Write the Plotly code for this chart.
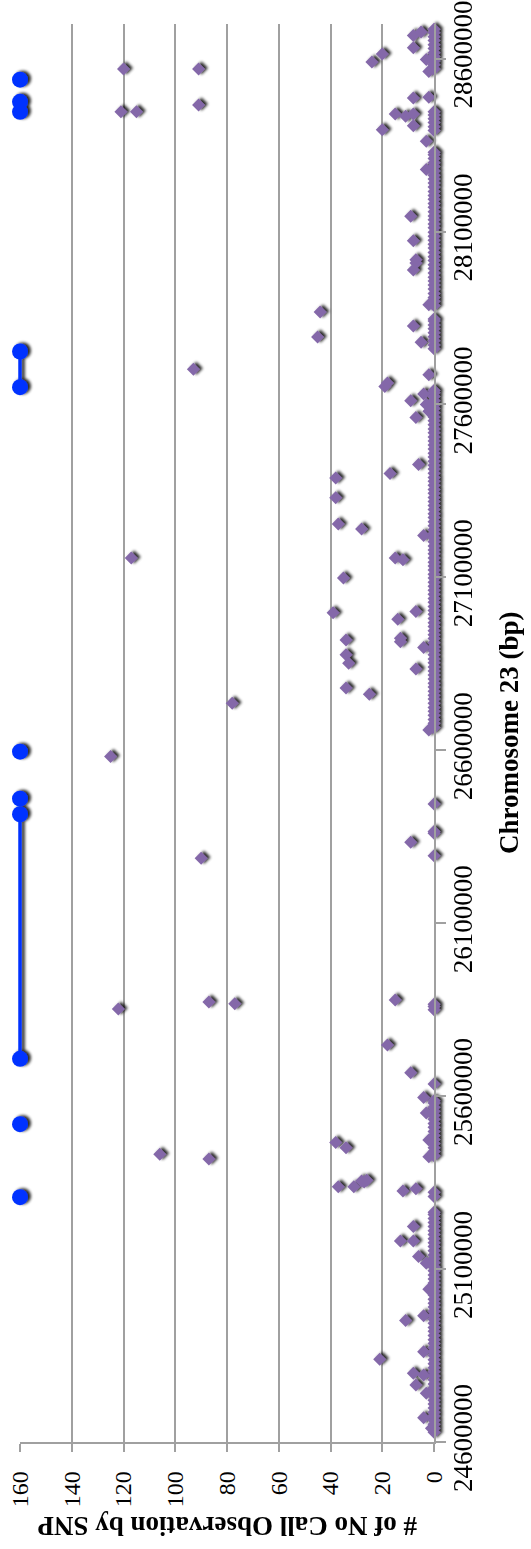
import plotly.graph_objects as go

# ---- data -------------------------------------------------------------
# Count axis (no-call observations per SNP)
count_ticks = [0, 20, 40, 60, 80, 100, 120, 140, 160]
# Chromosome 23 position axis (bp)
pos_ticks = [24600000, 25100000, 25600000, 26100000, 26600000,
             27100000, 27600000, 28100000, 28600000]
pos_tick_labels = [str(v) for v in pos_ticks]

# SNPs with at least one no-call: position (kb) and number of no-calls
snp_pos_kb = [
    28570, 28570, 28446, 28446, 28466, 28613, 28590, 28667, 28677, 28631,
    28597, 28563, 28486, 28488, 28440, 28433, 28440, 28406, 28394, 28361,
    28279, 28144, 28073, 28018, 28009, 27989, 27888, 27867, 27795, 27827,
    27780, 27702, 27686, 27662, 27652, 27611, 27562, 27600, 27630, 27580,
    27426, 27400, 27387, 27330, 27254, 27240, 27221, 27156, 27156, 27151,
    27098, 26998, 27001, 26979, 26919, 26924, 26914, 26897, 26876, 26852,
    26835, 26780, 26762, 26736, 26659, 26582, 26334, 26288, 25852, 25872,
    25867, 25878, 25748, 25668, 25596, 25551, 25473, 25425, 25466, 25451,
    25432, 25418, 25338, 25338, 25357, 25352, 25355, 25326, 25332, 25223,
    25181, 25181, 25136, 25117, 25042, 24951, 24965, 24839, 24861, 24799,
    24794, 24765, 24741, 24670, 24640,
]
snp_calls = [
    120, 91, 121, 115, 91, 20, 24, 8, 5, 8,
    3, 2, 8, 2, 15, 11, 8, 8, 20, 3,
    3, 9, 8, 7, 7, 8, 2, 44, 45, 8,
    5, 93, 2, 18, 19, 9, 7, 3, 4, 2,
    6, 17, 38, 38, 37, 28, 4, 117, 15, 12,
    35, 39, 7, 14, 34, 13, 13, 4, 34, 33,
    7, 34, 25, 78, 2, 125, 9, 90, 122, 87,
    77, 15, 18, 9, 4, 3, 2, 2, 38, 34,
    106, 87, 37, 31, 26, 27, 28, 12, 7, 8,
    13, 8, 6, 3, 2, 11, 4, 21, 4, 8,
    4, 7, 3, 4, 1,
]

# SNPs with zero no-calls: position (kb)
zero_pos_kb = [
    # 28.57-28.69 Mb
    28570, 28582, 28593, 28606, 28617, 28629, 28640, 28652, 28663, 28675, 28685,
    # 28.39-28.45 Mb
    28392, 28403, 28415, 28426, 28437, 28446,
    # 27.89-28.33 Mb
    27886, 27898, 27909, 27921, 27934, 27945, 27957, 27968, 27980, 27993,
    28004, 28016, 28027, 28039, 28052, 28063, 28075, 28086, 28098, 28111,
    28122, 28134, 28145, 28157, 28170, 28181, 28193, 28204, 28216, 28229,
    28240, 28252, 28263, 28275, 28288, 28299, 28311, 28322, 28329,
    # 27.76-27.85 Mb
    27761, 27772, 27784, 27796, 27807, 27819, 27830, 27841, 27847,
    # 26.67-27.64 Mb
    26666, 26678, 26689, 26701, 26713, 26724, 26736, 26748, 26759, 26771,
    26783, 26794, 26806, 26818, 26829, 26841, 26853, 26864, 26876, 26888,
    26899, 26911, 26923, 26934, 26946, 26958, 26969, 26981, 26993, 27004,
    27016, 27028, 27039, 27051, 27063, 27074, 27086, 27098, 27109, 27121,
    27133, 27144, 27156, 27168, 27179, 27191, 27203, 27214, 27226, 27238,
    27249, 27261, 27273, 27284, 27296, 27308, 27319, 27331, 27343, 27354,
    27366, 27378, 27389, 27401, 27413, 27424, 27436, 27448, 27459, 27471,
    27483, 27494, 27506, 27518, 27529, 27541, 27553, 27564, 27576, 27588,
    27599, 27611, 27623, 27634, 27640,
    # isolated SNPs between 25.3 and 26.5 Mb
    26445, 26365, 26360, 26295, 25859, 25850, 25866, 25635, 25322, 25310,
    # 25.43-25.59 Mb
    25428, 25440, 25451, 25463, 25475, 25486, 25498, 25510, 25521, 25533,
    25545, 25556, 25568, 25580, 25587,
    # 24.63-25.26 Mb
    24628, 24640, 24651, 24663, 24675, 24686, 24698, 24710, 24721, 24733,
    24745, 24756, 24768, 24780, 24791, 24803, 24815, 24826, 24838, 24850,
    24861, 24873, 24885, 24896, 24908, 24920, 24931, 24943, 24955, 24966,
    24978, 24990, 25001, 25013, 25025, 25036, 25048, 25060, 25071, 25083,
    25095, 25106, 25118, 25130, 25141, 25153, 25165, 25176, 25188, 25200,
    25211, 25223, 25235, 25246, 25258, 25264,
]

# Marked regions drawn at the top of the count scale (start/end, kb)
region_level = 160
region_start_kb = [28539, 28475, 27753, 26596, 26460, 26415, 25519, 25308]
region_end_kb = [28539, 28446, 27650, 26596, 26460, 25708, 25519, 25308]

# ---- traces -----------------------------------------------------------
all_pos = [p * 1000 for p in snp_pos_kb] + [p * 1000 for p in zero_pos_kb]
all_calls = snp_calls + [0] * len(zero_pos_kb)

reg_x, reg_y = [], []
for s, e in zip(region_start_kb, region_end_kb):
    pts = [s] if s == e else [s, e]
    for p in pts:
        reg_x.append(region_level)
        reg_y.append(p * 1000)
    reg_x.append(None)
    reg_y.append(None)

serif = "Liberation Serif, Times New Roman, serif"
grid = "#A0A0A0"

fig = go.Figure()
fig.add_trace(go.Scatter(
    x=all_calls, y=all_pos, mode="markers", cliponaxis=False,
    marker=dict(symbol="diamond", size=10, color="#8468A9", line=dict(width=0)),
    showlegend=False, hoverinfo="x+y",
))
fig.add_trace(go.Scatter(
    x=reg_x, y=reg_y, mode="lines+markers", connectgaps=False, cliponaxis=False,
    line=dict(color="#0433FF", width=3.5),
    marker=dict(symbol="circle", size=16, color="#0433FF"),
    showlegend=False, hoverinfo="y",
))

fig.update_layout(
    width=531, height=1549,
    margin=dict(l=20, r=97, t=24, b=107, pad=0),
    paper_bgcolor="white", plot_bgcolor="white",
    font=dict(family=serif, color="black"),
    xaxis=dict(
        range=[160, 0], tickvals=count_ticks, tickangle=-90,
        tickfont=dict(size=24, family=serif, color="black"),
        ticks="outside", ticklen=8, tickwidth=1.5, tickcolor=grid,
        ticklabelstandoff=10,
        showgrid=True, gridcolor=grid, gridwidth=1.5,
        showline=True, linecolor=grid, linewidth=1.5,
        zeroline=False, fixedrange=True, automargin=False,
    ),
    yaxis=dict(
        side="right", range=[24600000, 28700000],
        tickvals=pos_ticks, ticktext=pos_tick_labels, tickangle=-90,
        tickfont=dict(size=27, family=serif, color="black"),
        ticks="outside", ticklen=10, tickwidth=1.5, tickcolor=grid,
        ticklabelstandoff=-6,
        showgrid=False, showline=True, linecolor=grid, linewidth=1.5,
        zeroline=False, fixedrange=True, automargin=False,
    ),
    annotations=[
        dict(text="<b># of No Call Observation by SNP</b>", textangle=180,
             xref="paper", yref="paper", x=0.5, y=0, yshift=-84,
             xanchor="center", yanchor="middle", showarrow=False,
             font=dict(size=27, family=serif, color="black")),
        dict(text="<b>Chromosome 23 (bp)</b>", textangle=-90,
             xref="paper", yref="paper", x=1, y=0.5, xshift=75,
             xanchor="center", yanchor="middle", showarrow=False,
             font=dict(size=27, family=serif, color="black")),
    ],
)

# soft edges and a drop shadow on the markers; the region line sits on the
# plot edge, so it is drawn unclipped as well
soft_markers = """
var gd = document.getElementById('{plot_id}');
function addSoft() {
  var svg = gd.querySelector('svg.main-svg');
  if (!svg) return;
  var ns = 'http://www.w3.org/2000/svg';
  if (!document.getElementById('soft-mark')) {
    var defs = svg.querySelector('defs');
    if (!defs) { defs = document.createElementNS(ns, 'defs'); svg.insertBefore(defs, svg.firstChild); }
    var f = document.createElementNS(ns, 'filter');
    f.setAttribute('id', 'soft-mark');
    f.setAttribute('filterUnits', 'userSpaceOnUse');
    f.setAttribute('x', '-200'); f.setAttribute('y', '-200');
    f.setAttribute('width', '1000'); f.setAttribute('height', '2000');
    f.innerHTML =
      '<feGaussianBlur in="SourceAlpha" stdDeviation="1.4" result="b"/>' +
      '<feOffset in="b" dx="3" dy="-0.8" result="o"/>' +
      '<feComponentTransfer in="o" result="s"><feFuncA type="linear" slope="0.85"/></feComponentTransfer>' +
      '<feGaussianBlur in="SourceGraphic" stdDeviation="0.6" result="g"/>' +
      '<feMerge><feMergeNode in="s"/><feMergeNode in="g"/></feMerge>';
    defs.appendChild(f);
  }
  gd.querySelectorAll('.scatterlayer .trace').forEach(function (t) {
    t.setAttribute('filter', 'url(#soft-mark)');
    t.removeAttribute('clip-path');
    t.querySelectorAll('[clip-path]').forEach(function (el) { el.removeAttribute('clip-path'); });
  });
  var layer = gd.querySelector('.scatterlayer');
  var node = layer;
  while (node && node !== svg) {
    if (node.getAttribute && node.getAttribute('clip-path')) node.removeAttribute('clip-path');
    node = node.parentNode;
  }
}
addSoft();
gd.on('plotly_afterplot', addSoft);
"""

fig.write_html("out.html", config={"displayModeBar": False}, post_script=soft_markers)
